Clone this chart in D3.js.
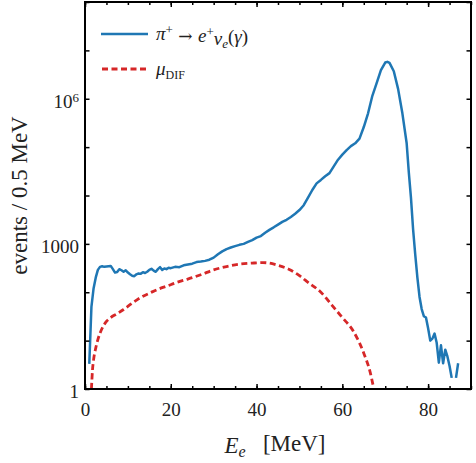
<!DOCTYPE html>
<html>
<head>
<meta charset="utf-8">
<script src="https://cdn.jsdelivr.net/npm/d3@7"></script>
<style>
  body { margin: 0; background: #fff; }
  svg text { font-family: "Liberation Serif", "DejaVu Serif", serif; }
</style>
</head>
<body>
<svg id="chart" width="476" height="463"></svg>
<script>
// pi+ -> e+ nu (gamma) spectrum, 0.5 MeV bins
const eBlue = [1, 1.5, 2, 2.5, 3, 3.5, 4, 4.5, 5, 5.5, 6, 6.5, 7, 7.5, 8, 8.5, 9, 9.5, 10, 10.5,
  11, 11.5, 12, 12.5, 13, 13.5, 14, 14.5, 15, 15.5, 16, 16.5, 17, 17.5, 18, 18.5, 19, 19.5, 20,
  21, 22, 23, 24, 25, 26, 27, 28, 29, 30, 31, 32, 33, 34, 35, 36, 37, 38, 39, 40, 41, 42, 43, 44,
  45, 46, 47, 48, 49, 50, 51, 52, 53, 54, 55, 56, 57, 58, 59, 60, 61, 62, 63, 64, 65, 66, 67, 68,
  69, 70, 70.5, 71, 72, 73, 74, 75, 75.5, 76, 76.5, 77, 77.5, 78, 78.5, 79, 79.5, 80, 80.5, 81,
  81.5, 82, 82.5, 83, 83.5, 84, 84.5, 85, 85.5, 86, 86.5, 87];
const nBlue = [3.3, 50, 120, 200, 290, 335, 345, 335, 340, 345, 350, 300, 255, 262, 300, 285, 265, 285, 255, 235,
  220, 215, 235, 245, 240, 260, 250, 265, 290, 305, 280, 265, 300, 330, 290, 310, 300, 320, 315,
  335, 330, 360, 375, 390, 420, 430, 445, 470, 520, 610, 700, 780, 840, 900, 955, 1000, 1100, 1200, 1350, 1450, 1700, 1950, 2200,
  2500, 2850, 3150, 3600, 4200, 5000, 6300, 9000, 13000, 17800, 21000, 25000, 29000, 40000, 55000, 70000, 87000, 105000, 120000, 150000, 260000, 500000, 1150000, 2100000,
  3900000, 5600000, 5800000, 5500000, 3700000, 1600000, 500000, 120000, 30000, 9000, 2000, 600, 200, 80, 45, 32, 30, 18, 10, 11,
  14, 9, 3.5, 8, 3.4, 6.5, 4.7, 3, 1.7, 0, 1.7, 3.4];

// muon decay-in-flight background
const eMu = [1.5, 1.75, 2, 2.5, 3, 4, 5, 6, 7.5, 9, 11.4, 13, 15.3, 17, 19.2, 21, 23.1, 25, 27, 30,
  33, 36, 39, 41.5, 43, 45, 47.5, 50, 52, 55, 57.5, 60, 62.5, 65, 66.5, 67.3];
const nMu = [1, 2.5, 4, 7, 10.5, 18, 25, 30, 36, 44, 63, 78, 98, 115, 135, 155, 178, 200, 230, 290,
  340, 380, 400, 410, 400, 360, 300, 220, 160, 100, 55, 30, 16, 5.5, 2.2, 1.05];

const xTicks = [0, 20, 40, 60, 80];
const yLabelTicks = [1, 1000, 1e6];

const serif = "'Liberation Serif', 'DejaVu Serif', serif";
const svg = d3.select("#chart");
const margin = { top: 2, right: 5, bottom: 74, left: 85 };
const width = 476 - margin.left - margin.right;
const height = 463 - margin.top - margin.bottom;

const x = d3.scaleLinear().domain([0, 90]).range([0, width]);
const y = d3.scaleLog().domain([1, 1e8]).range([height, 0]);

const g = svg.append("g").attr("transform", `translate(${margin.left},${margin.top})`);

g.append("clipPath").attr("id", "clip")
  .append("rect").attr("width", width).attr("height", height);

// curves
const blue = eBlue.map((e, i) => [e, nBlue[i]]);
const mu = eMu.map((e, i) => [e, nMu[i]]);

g.append("path")
  .datum(mu)
  .attr("clip-path", "url(#clip)")
  .attr("fill", "none")
  .attr("stroke", "#d62728")
  .attr("stroke-width", 2.8)
  .attr("stroke-dasharray", "6,3.5")
  .attr("d", d3.line().curve(d3.curveMonotoneX).x(d => x(d[0])).y(d => y(d[1])));

g.append("path")
  .datum(blue)
  .attr("clip-path", "url(#clip)")
  .attr("fill", "none")
  .attr("stroke", "#1f77b4")
  .attr("stroke-width", 2.5)
  .attr("stroke-linejoin", "round")
  .attr("d", d3.line().defined(d => d[1] > 0).x(d => x(d[0])).y(d => y(d[1])));

// axes, ticks pointing inward
const xMinor = d3.range(0, 91, 5);
const yMajor = d3.range(0, 9).map(k => Math.pow(10, k));

const bottom = g.append("g").attr("transform", `translate(0,${height})`)
  .call(d3.axisBottom(x).tickValues(xTicks).tickSize(-5).tickPadding(10).tickFormat(d3.format("d")));
g.append("g").attr("transform", `translate(0,${height})`)
  .call(d3.axisBottom(x).tickValues(xMinor).tickSize(-3).tickFormat(""));
g.append("g").call(d3.axisTop(x).tickValues(xTicks).tickSize(-5).tickFormat(""));
g.append("g").call(d3.axisTop(x).tickValues(xMinor).tickSize(-3).tickFormat(""));

const left = g.append("g")
  .call(d3.axisLeft(y).tickValues(yMajor).tickSize(-4.5).tickPadding(6)
    .tickFormat(d => yLabelTicks.includes(d) ? (d === 1e6 ? "" : String(d)) : ""));
g.append("g").attr("transform", `translate(${width},0)`)
  .call(d3.axisRight(y).tickValues(yMajor).tickSize(-4.5).tickFormat(""));

g.selectAll(".domain").remove();
g.selectAll("g").attr("font-family", serif).attr("font-size", 19);
g.selectAll(".tick line").attr("stroke", "#000").attr("stroke-width", 1.5);
g.selectAll(".tick text").attr("fill", "#222").attr("font-family", serif).attr("font-size", 19);
bottom.selectAll(".tick text").attr("dy", "0.9em");
left.selectAll(".tick text").attr("dy", "0.45em");

// 10^6 label with superscript
const t6 = left.selectAll(".tick").filter(d => d === 1e6).select("text");
t6.text(null);
t6.append("tspan").text("10");
t6.append("tspan").attr("dy", "-0.45em").attr("font-size", 13).text("6");

// frame
g.append("rect").attr("width", width).attr("height", height)
  .attr("fill", "none").attr("stroke", "#000").attr("stroke-width", 2);

// axis titles
svg.append("text")
  .attr("transform", `translate(${margin.left + width / 2 - 3},453)`)
  .attr("text-anchor", "middle")
  .attr("font-family", serif).attr("font-size", 23).attr("fill", "#222")
  .call(t => {
    t.append("tspan").attr("font-style", "italic").text("E");
    t.append("tspan").attr("font-style", "italic").attr("font-size", 16).attr("dy", "0.25em").text("e");
    t.append("tspan").attr("dy", "-0.25em").text("\u2002 [MeV]");
  });

svg.append("text")
  .attr("transform", `translate(27,${margin.top + height / 2}) rotate(-90)`)
  .attr("text-anchor", "middle")
  .attr("font-family", serif).attr("font-size", 23).attr("fill", "#222")
  .text("events / 0.5 MeV");

// legend
const leg = g.append("g").attr("transform", "translate(16,32)")
  .attr("font-family", serif).attr("font-size", 19);
leg.append("line").attr("x1", 0).attr("x2", 47).attr("y1", 0).attr("y2", 0)
  .attr("stroke", "#1f77b4").attr("stroke-width", 2.6);
leg.append("text").attr("x", 55).attr("y", 6).attr("fill", "#222")
  .call(t => {
    t.append("tspan").attr("font-style", "italic").text("\u03c0");
    t.append("tspan").attr("dy", "-0.45em").attr("font-size", 13).text("+");
    t.append("tspan").attr("dy", "0.45em").attr("font-family", "'DejaVu Serif', serif").attr("font-size", 17).text(" \u2192 ");
    t.append("tspan").attr("font-style", "italic").text("e");
    t.append("tspan").attr("dy", "-0.45em").attr("font-size", 13).text("+");
    t.append("tspan").attr("dy", "0.45em").attr("font-style", "italic").text("\u03bd");
    t.append("tspan").attr("dy", "0.3em").attr("font-style", "italic").attr("font-size", 13).text("e");
    t.append("tspan").attr("dy", "-0.3em").text("(");
    t.append("tspan").attr("font-style", "italic").text("\u03b3");
    t.append("tspan").text(")");
  });

leg.append("line").attr("x1", 1).attr("x2", 47).attr("y1", 35).attr("y2", 35)
  .attr("stroke", "#d62728").attr("stroke-width", 2.8).attr("stroke-dasharray", "6,3.5");
leg.append("text").attr("x", 55).attr("y", 41).attr("fill", "#222")
  .call(t => {
    t.append("tspan").attr("font-style", "italic").text("\u03bc");
    t.append("tspan").attr("dy", "0.3em").attr("font-size", 12).text("DIF");
  });
</script>
</body>
</html>
